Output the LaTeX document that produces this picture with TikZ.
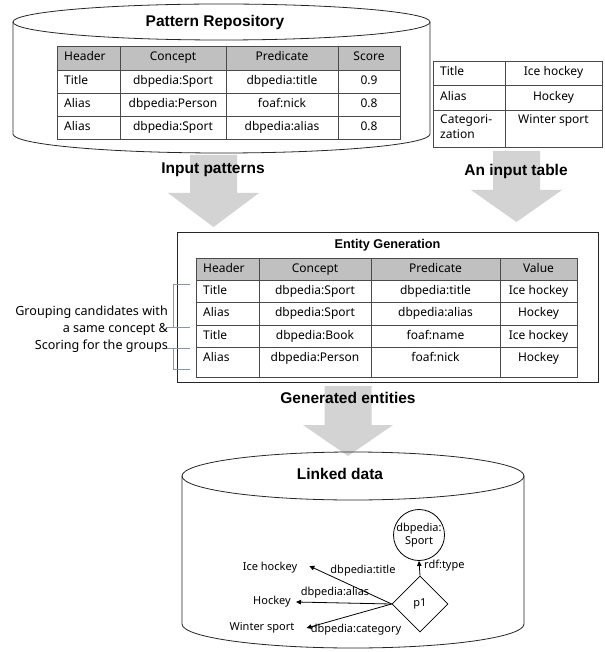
\documentclass[tikz,border=0pt]{standalone}
\usepackage{fontspec}
\setmainfont{Noto Sans}
\newfontfamily\tfont{Liberation Sans}
\usetikzlibrary{arrows.meta,shapes.geometric}
\definecolor{gridc}{HTML}{4A4A4A}
\definecolor{hdrgray}{HTML}{C0C0C0}
\definecolor{arrowgray}{HTML}{D3D3D3}
\definecolor{bracketc}{HTML}{8597AD}
\begin{document}
\begin{tikzpicture}[x=1pt,y=-1pt,
  txt/.style={inner sep=0pt, font=\fontsize{12}{13}\selectfont, text height=8.5pt, text depth=2.5pt},
  ctxt/.style={txt, anchor=center},
  ltxt/.style={txt, anchor=west},
  ttl/.style={inner sep=0pt, font=\tfont\bfseries\fontsize{15.5}{18}\selectfont},
  grid/.style={draw=gridc, line width=0.8pt},
  cyl/.style={draw=black!85, line width=0.8pt},
  blk/.style={fill=arrowgray, draw=none},
  gtxt/.style={inner sep=1pt, font=\fontsize{11}{12}\selectfont},
  edgearrow/.style={draw=black, line width=0.8pt, -{Triangle[length=5pt,width=4.5pt]}},
  brk/.style={draw=bracketc, line width=0.8pt},
]
\useasboundingbox (0,0) rectangle (604,652);

% ---------- Pattern Repository cylinder ----------
\draw[cyl] (221.5,22) ellipse [x radius=208.5, y radius=18];
\draw[cyl] (13,22) -- (13,134) arc[start angle=180, end angle=0, x radius=208.5, y radius=19] -- (430,22);
\node[ttl] (prtitle) at (215,22) {Pattern Repository};

% table 1
\fill[hdrgray] (57,46) rectangle (400,70);
\draw[grid] (57,46) rectangle (400,139);
\foreach \yy in {70,93,116} \draw[grid] (57,\yy) -- (400,\yy);
\foreach \xx in {120,226,338} \draw[grid] (\xx,46) -- (\xx,139);
\node[ltxt] (pa1) at (64,58) {Header};
\node[ctxt] (pa2) at (173,58) {Concept};
\node[ctxt] (pa3) at (282,58) {Predicate};
\node[ctxt] (pa4) at (369,58) {Score};
\node[ltxt] (pb1) at (64,81.5) {Title};
\node[ctxt] (pb2) at (173,81.5) {dbpedia:Sport};
\node[ctxt] (pb3) at (282,81.5) {dbpedia:title};
\node[ctxt] (pb4) at (369,81.5) {0.9};
\node[ltxt] (pc1) at (64,104.5) {Alias};
\node[ctxt] (pc2) at (173,104.5) {dbpedia:Person};
\node[ctxt] (pc3) at (282,104.5) {foaf:nick};
\node[ctxt] (pc4) at (369,104.5) {0.8};
\node[ltxt] (pd1) at (64,127.5) {Alias};
\node[ctxt] (pd2) at (173,127.5) {dbpedia:Sport};
\node[ctxt] (pd3) at (282,127.5) {dbpedia:alias};
\node[ctxt] (pd4) at (369,127.5) {0.8};

% ---------- input table ----------
\draw[grid] (433,61) rectangle (602,147);
\foreach \yy in {85,110} \draw[grid] (433,\yy) -- (602,\yy);
\draw[grid] (505,61) -- (505,147);
\node[ltxt] (it1) at (440,73) {Title};
\node[ctxt] (it2) at (553.5,73) {Ice hockey};
\node[ltxt] (ia1) at (440,97.5) {Alias};
\node[ctxt] (ia2) at (553.5,97.5) {Hockey};
\node[ltxt] (ic1) at (440,121) {Categori-};
\node[ltxt] (ic1b) at (440,136) {zation};
\node[ctxt] (ic2) at (553.5,121) {Winter sport};

% ---------- block arrows ----------
\fill[blk] (190,155) -- (237,155) -- (237,193) -- (259,193) -- (213.5,227) -- (168,193) -- (190,193) -- cycle;
\fill[blk] (493,151) -- (540,151) -- (540,190) -- (562,190) -- (516.5,222) -- (471,190) -- (493,190) -- cycle;
\fill[blk] (324.5,386) -- (371.5,386) -- (371.5,425) -- (393,425) -- (348,456) -- (303,425) -- (324.5,425) -- cycle;
\node[ttl] (inpat) at (213,170) {Input patterns};
\node[ttl] (intab) at (516,171) {An input table};
\node[ttl] (genent) at (348,398) {Generated entities};

% ---------- Entity Generation ----------
\draw[draw=black!85, line width=0.8pt] (177,232) rectangle (598,382);
\node[inner sep=0pt, font=\tfont\bfseries\fontsize{12.7}{14}\selectfont] (egtitle) at (387.5,245) {Entity Generation};
\fill[hdrgray] (196,258) rectangle (577,280);
\draw[grid] (196,258) rectangle (577,377);
\foreach \yy in {280,302,325,347} \draw[grid] (196,\yy) -- (577,\yy);
\foreach \xx in {259,371,500} \draw[grid] (\xx,258) -- (\xx,377);
\node[ltxt] (ea1) at (203,269) {Header};
\node[ctxt] (ea2) at (315,269) {Concept};
\node[ctxt] (ea3) at (435.5,269) {Predicate};
\node[ctxt] (ea4) at (538.5,269) {Value};
\node[ltxt] (eb1) at (203,291) {Title};
\node[ctxt] (eb2) at (315,291) {dbpedia:Sport};
\node[ctxt] (eb3) at (435.5,291) {dbpedia:title};
\node[ctxt] (eb4) at (538.5,291) {Ice hockey};
\node[ltxt] (ec1) at (203,313.5) {Alias};
\node[ctxt] (ec2) at (315,313.5) {dbpedia:Sport};
\node[ctxt] (ec3) at (435.5,313.5) {dbpedia:alias};
\node[ctxt] (ec4) at (538.5,313.5) {Hockey};
\node[ltxt] (ed1) at (203,336) {Title};
\node[ctxt] (ed2) at (315,336) {dbpedia:Book};
\node[ctxt] (ed3) at (435.5,336) {foaf:name};
\node[ctxt] (ed4) at (538.5,336) {Ice hockey};
\node[ltxt] (ee1) at (203,358) {Alias};
\node[ctxt] (ee2) at (315,358) {dbpedia:Person};
\node[ctxt] (ee3) at (435.5,358) {foaf:nick};
\node[ctxt] (ee4) at (538.5,358) {Hockey};

% brackets and note
\draw[brk] (190,284) -- (173,284) -- (173,327) -- (190,327);
\draw[brk] (167,327) -- (173,327);
\draw[brk] (190,348) -- (173,348) -- (173,369) -- (190,369);
\draw[brk] (167,348) -- (173,348);
\node[anchor=east, align=right, inner sep=0pt, font=\fontsize{12.6}{17}\selectfont] (grp) at (168,329) {Grouping candidates with\\a same concept \&\\Scoring for the groups};

% ---------- Linked data cylinder ----------
\draw[cyl] (353,476) ellipse [x radius=171, y radius=24];
\draw[cyl] (182,476) -- (182,624) arc[start angle=180, end angle=0, x radius=171, y radius=24] -- (524,476);
\node[ttl] (ldtitle) at (340,474) {Linked data};

% graph
\node[draw, circle, line width=0.8pt, minimum size=47pt, inner sep=0pt, align=center, font=\fontsize{11}{13}\selectfont] (sport) at (419,535) {dbpedia:\\Sport};
\node[draw, diamond, line width=0.8pt, minimum width=56pt, minimum height=56pt, inner sep=0pt, font=\fontsize{11}{12}\selectfont] (p1) at (420,604) {p1};
\node[gtxt] (ice) at (270,568) {Ice hockey};
\node[gtxt] (hock) at (272,602) {Hockey};
\node[gtxt] (wint) at (262,628) {Winter sport};
\draw[edgearrow] (p1.north) -- (sport.south);
\draw[edgearrow] (p1.west) -- ([xshift=11pt,yshift=2pt]ice.east);
\draw[edgearrow] (p1.west) -- ([xshift=4pt]hock.east);
\draw[edgearrow] (p1.west) -- ([xshift=11pt]wint.east);
\node[gtxt, anchor=west] (lbtype) at (423,566) {rdf:type};
\node[gtxt] (lbtitle) at (363,571) {dbpedia:title};
\node[gtxt] (lbalias) at (335,593) {dbpedia:alias};
\node[gtxt] (lbcat) at (356,630) {dbpedia:category};
\end{tikzpicture}
\end{document}
